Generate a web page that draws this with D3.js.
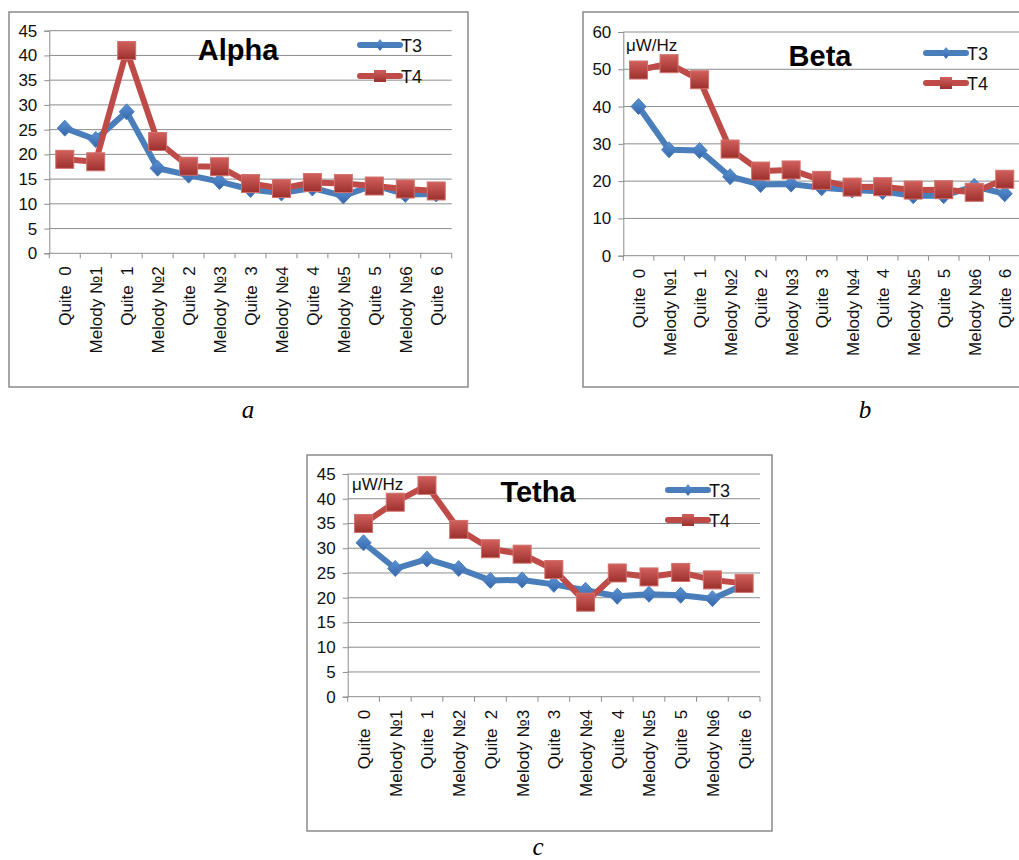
<!DOCTYPE html>
<html>
<head>
<meta charset="utf-8">
<script src="https://cdn.jsdelivr.net/npm/d3@7"></script>
<style>
  body { margin: 0; background: #fff; }
  svg { display: block; }
</style>
</head>
<body>
<div id="chart"></div>
<script>
// categories on the x axis (same for all three panels)
const categories = ["Quite  0", "Melody №1", "Quite  1", "Melody №2", "Quite  2", "Melody №3",
  "Quite  3", "Melody №4", "Quite  4", "Melody №5", "Quite  5", "Melody №6", "Quite  6"];
const seriesNames = ["T3", "T4"];

// values, µW/Hz
const alphaT3 = [25.3, 23.0, 28.6, 17.2, 15.8, 14.5, 12.9, 12.2, 13.2, 11.6, 13.8, 11.9, 12.0];
const alphaT4 = [19.0, 18.5, 41.0, 22.6, 17.6, 17.5, 14.1, 13.1, 14.3, 14.1, 13.6, 13.0, 12.6];
const betaT3 = [40.0, 28.4, 28.2, 21.2, 19.1, 19.2, 18.2, 17.6, 17.2, 16.1, 16.1, 18.6, 16.6];
const betaT4 = [49.8, 51.5, 47.2, 28.6, 22.7, 23.0, 20.2, 18.4, 18.5, 17.6, 17.7, 17.0, 20.5];
const tethaT3 = [31.1, 25.9, 27.8, 25.9, 23.5, 23.6, 22.7, 21.5, 20.3, 20.7, 20.5, 19.8, 22.6];
const tethaT4 = [35.0, 39.3, 42.7, 33.8, 29.9, 28.8, 25.7, 19.1, 25.0, 24.2, 25.1, 23.6, 22.9];

// y tick values per panel
const alphaTicks = [0, 5, 10, 15, 20, 25, 30, 35, 40, 45];
const betaTicks = [0, 10, 20, 30, 40, 50, 60];
const tethaTicks = [0, 5, 10, 15, 20, 25, 30, 35, 40, 45];

const blue = "#4a7ebb", red = "#be4b48";
const sans = "Liberation Sans, Arial, sans-serif";

const svg = d3.select("#chart").append("svg")
  .attr("width", 1019)
  .attr("height", 860)
  .style("font-family", sans);

// gradients for the markers, a bit like the excel 2007 look
const defs = svg.append("defs");
function grad(id, c1, c2) {
  const g = defs.append("linearGradient").attr("id", id)
    .attr("x1", 0).attr("y1", 0).attr("x2", 0).attr("y2", 1);
  g.append("stop").attr("offset", "0%").attr("stop-color", c1);
  g.append("stop").attr("offset", "100%").attr("stop-color", c2);
}
grad("gRed", "#d2605c", "#9c302d");
grad("gBlue", "#5b93d6", "#3566a8");

function drawPanel(p) {
  // frame
  svg.append("rect")
    .attr("x", p.frame[0]).attr("y", p.frame[1])
    .attr("width", p.frame[2] - p.frame[0]).attr("height", p.frame[3] - p.frame[1])
    .attr("fill", "#fff").attr("stroke", "#8a8a8a").attr("stroke-width", 1.5);

  const x = d3.scaleBand().domain(categories).range([p.left, p.right]);
  const y = d3.scaleLinear().domain([0, d3.max(p.ticks)]).range([p.bottom, p.top]);

  // grid lines
  svg.append("g").selectAll("line")
    .data(p.ticks.filter(d => d > 0))
    .enter().append("line")
    .attr("x1", p.left).attr("x2", p.right)
    .attr("y1", d => y(d)).attr("y2", d => y(d))
    .attr("stroke", "#8c8c8c").attr("stroke-width", 1);

  // y axis
  const ya = svg.append("g")
    .attr("transform", "translate(" + p.left + ",0)")
    .call(d3.axisLeft(y).tickValues(p.ticks).tickSize(5).tickPadding(7));
  ya.selectAll("path, line").attr("stroke", "#8c8c8c");
  ya.selectAll("text").attr("font-size", 17).attr("fill", "#111")
    .attr("font-family", sans);

  // x axis: ticks sit between the categories
  const xa = svg.append("g").attr("transform", "translate(0," + p.bottom + ")");
  xa.append("line").attr("x1", p.left).attr("x2", p.right)
    .attr("stroke", "#8c8c8c");
  const bounds = categories.map(c => x(c)).concat([p.right]);
  xa.selectAll(".tk").data(bounds).enter().append("line")
    .attr("x1", d => d).attr("x2", d => d)
    .attr("y1", 0).attr("y2", 5)
    .attr("stroke", "#8c8c8c");
  xa.selectAll(".lbl").data(categories).enter().append("text")
    .attr("transform", d => "translate(" + (x(d) + x.bandwidth() / 2 + 6.5) + ",13) rotate(-90)")
    .attr("text-anchor", "end")
    .attr("font-size", 17)
    .attr("fill", "#111")
    .style("white-space", "pre")
    .text(d => d);

  const line = d3.line()
    .x((d, i) => x(categories[i]) + x.bandwidth() / 2)
    .y(d => y(d));

  const diamond = "M0,-8L7.5,0L0,8L-7.5,0Z";

  // T3 line + diamonds
  svg.append("path").datum(p.t3)
    .attr("fill", "none").attr("stroke", blue).attr("stroke-width", 6)
    .attr("stroke-linejoin", "round").attr("d", line);
  svg.append("g").selectAll("path")
    .data(p.t3).enter().append("path")
    .attr("transform", (d, i) => "translate(" + (x(categories[i]) + x.bandwidth() / 2) + "," + y(d) + ")")
    .attr("d", diamond)
    .attr("fill", "url(#gBlue)").attr("stroke", blue).attr("stroke-width", 1);

  // T4 line + squares
  svg.append("path").datum(p.t4)
    .attr("fill", "none").attr("stroke", red).attr("stroke-width", 6)
    .attr("stroke-linejoin", "round").attr("d", line);
  svg.append("g").selectAll("rect")
    .data(p.t4).enter().append("rect")
    .attr("x", (d, i) => x(categories[i]) + x.bandwidth() / 2 - 9)
    .attr("y", d => y(d) - 9)
    .attr("width", 18).attr("height", 18)
    .attr("fill", "url(#gRed)").attr("stroke", "#d0706c").attr("stroke-width", 1);

  // title
  svg.append("text")
    .attr("x", p.title[1]).attr("y", p.title[2])
    .attr("text-anchor", "middle")
    .attr("font-size", 29).attr("font-weight", "bold")
    .attr("fill", "#000")
    .text(p.title[0]);

  // unit label
  if (p.unit) {
    svg.append("text")
      .attr("x", p.unit[0]).attr("y", p.unit[1])
      .attr("font-size", 17).attr("fill", "#111")
      .text("μW/Hz");
  }

  // legend
  const lg = svg.append("g").attr("transform", "translate(" + p.legend[0] + "," + p.legend[1] + ")");
  seriesNames.forEach(function (name, k) {
    const g = lg.append("g").attr("transform", "translate(0," + (k * p.legend[2]) + ")");
    g.append("line").attr("x1", 0).attr("x2", 40)
      .attr("stroke", k === 0 ? blue : red).attr("stroke-width", 6)
      .attr("stroke-linecap", "round");
    if (k === 0) {
      g.append("path").attr("d", "M0,-6L4.5,0L0,6L-4.5,0Z")
        .attr("transform", "translate(20,0)").attr("fill", "url(#gBlue)");
    } else {
      g.append("rect").attr("x", 14).attr("y", -6).attr("width", 12).attr("height", 12)
        .attr("fill", "url(#gRed)");
    }
    g.append("text").attr("x", 41).attr("y", 6.5)
      .attr("font-size", 18).attr("fill", "#111")
      .text(name);
  });

  // caption under the frame
  svg.append("text")
    .attr("x", p.caption[1]).attr("y", p.caption[2])
    .attr("text-anchor", "middle")
    .style("font-family", "Liberation Serif, Times New Roman, serif")
    .style("font-style", "italic")
    .attr("font-size", 25)
    .text(p.caption[0]);
}

drawPanel({
  frame: [9, 12, 468, 387], left: 49.3, right: 451.7, top: 30.7, bottom: 253.3,
  ticks: alphaTicks, t3: alphaT3, t4: alphaT4,
  title: ["Alpha", 238, 60], legend: [360, 45, 31], caption: ["a", 248, 418]
});
drawPanel({
  frame: [583, 12, 1030, 387], left: 623.3, right: 1020, top: 32, bottom: 255.7,
  ticks: betaTicks, t3: betaT3, t4: betaT4,
  title: ["Beta", 820, 66], legend: [926, 53, 30], caption: ["b", 865, 418],
  unit: [626, 51]
});
drawPanel({
  frame: [307, 455, 772, 831], left: 347.7, right: 760, top: 474, bottom: 696.7,
  ticks: tethaTicks, t3: tethaT3, t4: tethaT4,
  title: ["Tetha", 538, 502], legend: [668, 490, 30], caption: ["c", 538, 855],
  unit: [352, 490]
});
</script>
</body>
</html>
